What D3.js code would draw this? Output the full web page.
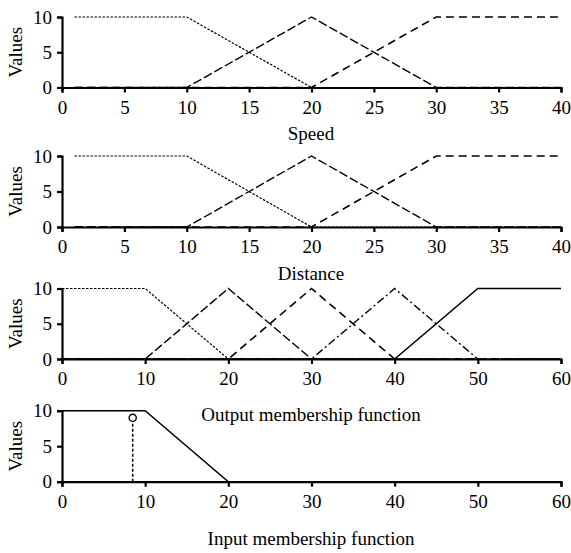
<!DOCTYPE html>
<html><head><meta charset="utf-8">
<script src="https://cdn.jsdelivr.net/npm/d3@7"></script>
<style>
html,body{margin:0;padding:0;background:#fff;}
text{font-family:"Liberation Serif","Times New Roman",serif;fill:#000;}
</style></head>
<body>
<svg id="c" width="571" height="553"></svg>
<script>
// ---- data ----
const speedX = [1, 10, 20, 30, 40];
const speedLow = [10, 10, 0, 0, 0];
const speedMid = [0, 0, 10, 0, 0];
const speedHigh = [0, 0, 0, 10, 10];
const speedTicks = [0, 5, 10, 15, 20, 25, 30, 35, 40];

const distX = [1, 10, 20, 30, 40];
const distLow = [10, 10, 0, 0, 0];
const distMid = [0, 0, 10, 0, 0];
const distHigh = [0, 0, 0, 10, 10];
const distTicks = [0, 5, 10, 15, 20, 25, 30, 35, 40];

const outX = [0, 10, 20, 30, 40, 50, 60];
const outA = [10, 10, 0, 0, 0, 0, 0];
const outB = [0, 0, 10, 0, 0, 0, 0];
const outC = [0, 0, 0, 10, 0, 0, 0];
const outD = [0, 0, 0, 0, 10, 0, 0];
const outE = [0, 0, 0, 0, 0, 10, 10];
const outTicks = [0, 10, 20, 30, 40, 50, 60];

const inX = [0, 10, 20, 60];
const inVal = [10, 10, 0, 0];
const inPointX = [8.5];
const inPointY = [9];
const inTicks = [0, 10, 20, 30, 40, 50, 60];

const yTicks = [0, 5, 10];
const titles = ["Speed", "Distance", "Output membership function", "Input membership function"];

// ---- drawing ----
const svg = d3.select("#c");
const L = 62, R = 561;
const FS = "19px";
const FF = '"Liberation Serif","Times New Roman",serif';
const styles = {
  dot:  {dash: "2.5,1.5", w: 1.2},
  long: {dash: "9,3", w: 1.4},
  dash: {dash: "8,5", w: 1.6},
  dashdot: {dash: "8,3,2,3", w: 1.4},
  solid: {dash: null, w: 1.5}
};

function panel(top, bottom, xmax, ticks, series, title, titleY) {
  const x = d3.scaleLinear().domain([0, xmax]).range([L, R]);
  const y = d3.scaleLinear().domain([0, 10]).range([bottom, top]);
  const g = svg.append("g");
  const line = d3.line().x(d => x(d[0])).y(d => y(d[1]));
  series.forEach(s => {
    const pts = s.xs.map((v, i) => [v, s.ys[i]]);
    const st = styles[s.style];
    g.append("path").attr("d", line(pts)).attr("fill", "none")
      .attr("stroke", "#000").attr("stroke-width", st.w)
      .attr("stroke-dasharray", st.dash);
  });
  const xa = g.append("g").attr("transform", `translate(0,${bottom})`)
    .call(d3.axisBottom(x).tickValues(ticks).tickSize(5).tickPadding(8).tickFormat(d3.format("d")));
  const ya = g.append("g").attr("transform", `translate(${L},0)`)
    .call(d3.axisLeft(y).tickValues(yTicks).tickSize(5).tickPadding(5).tickFormat(d3.format("d")));
  [xa, ya].forEach(a => {
    a.select(".domain").attr("stroke", "#000").attr("stroke-width", 2.2);
    a.selectAll(".tick line").attr("stroke", "#000").attr("stroke-width", 2.2);
    a.selectAll("text").style("font-family", FF).style("font-size", FS).attr("fill", "#000");
  });
  g.append("text").attr("transform", `translate(22,${(top + bottom) / 2}) rotate(-90)`)
    .attr("text-anchor", "middle").style("font-family", FF).style("font-size", FS).text("Values");
  g.append("text").attr("x", 311).attr("y", titleY).attr("text-anchor", "middle")
    .style("font-family", FF).style("font-size", FS).text(title);
  return {g, x, y};
}

panel(17, 87.5, 40, speedTicks, [
  {xs: speedX, ys: speedLow, style: "dot"},
  {xs: speedX, ys: speedMid, style: "long"},
  {xs: speedX, ys: speedHigh, style: "dash"}
], titles[0], 140);

panel(156, 227, 40, distTicks, [
  {xs: distX, ys: distLow, style: "dot"},
  {xs: distX, ys: distMid, style: "long"},
  {xs: distX, ys: distHigh, style: "dash"}
], titles[1], 280);

panel(288.5, 359, 60, outTicks, [
  {xs: outX, ys: outA, style: "dot"},
  {xs: outX, ys: outB, style: "long"},
  {xs: outX, ys: outC, style: "dash"},
  {xs: outX, ys: outD, style: "dashdot"},
  {xs: outX, ys: outE, style: "solid"}
], titles[2], 421);

const p4 = panel(410.7, 481.7, 60, inTicks, [
  {xs: inX, ys: inVal, style: "solid"}
], titles[3], 545);

p4.g.append("line").attr("x1", p4.x(inPointX[0])).attr("x2", p4.x(inPointX[0]))
  .attr("y1", p4.y(0)).attr("y2", p4.y(inPointY[0]) + 4)
  .attr("stroke", "#000").attr("stroke-width", 1.5).attr("stroke-dasharray", "3,2");
p4.g.append("circle").attr("cx", p4.x(inPointX[0])).attr("cy", p4.y(inPointY[0]))
  .attr("r", 3.6).attr("fill", "#fff").attr("stroke", "#000").attr("stroke-width", 1.4);
</script>
</body></html>
